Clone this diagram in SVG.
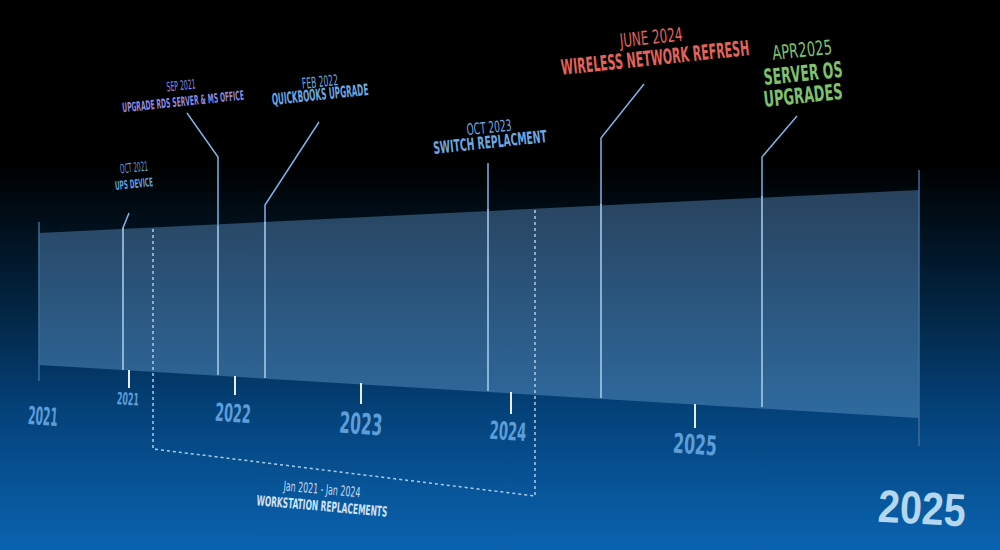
<svg xmlns="http://www.w3.org/2000/svg" width="1000" height="550" viewBox="0 0 1000 550">
<defs>
<linearGradient id="bg" x1="0" y1="0" x2="0" y2="550" gradientUnits="userSpaceOnUse">
<stop offset="0" stop-color="#000000"/>
<stop offset="0.3" stop-color="#000000"/>
<stop offset="0.55" stop-color="#02233f"/>
<stop offset="0.75" stop-color="#04427a"/>
<stop offset="1" stop-color="#0a63b0"/>
</linearGradient>
<linearGradient id="band" x1="0" y1="190" x2="0" y2="418" gradientUnits="userSpaceOnUse">
<stop offset="0" stop-color="#28425d"/>
<stop offset="1" stop-color="#2e6ba0"/>
</linearGradient>
<style>
.t{font-family:"Liberation Sans Narrow","DejaVu Sans Condensed","Liberation Sans",sans-serif;text-anchor:middle}
.b{font-weight:bold}
.yr{fill:#5d9dd8;font-weight:bold}
.lead{fill:none;stroke:#7fb3e3;stroke-width:1.5}
.vl{stroke:#a9d0f0;stroke-width:1.5}
.tick{stroke:#e4edf6;stroke-width:2}
.dash{fill:none;stroke:#a9cde9;stroke-width:1.5;stroke-dasharray:3 3}
.edge{stroke:#3a6c98;stroke-width:1.5}
</style>
</defs>
<rect width="1000" height="550" fill="url(#bg)"/>
<g id="band-shape">
<polygon points="39,233 919,190 919,418 39,365" fill="url(#band)"/>
<line class="edge" x1="39" y1="222" x2="39" y2="381"/>
<line class="edge" x1="919" y1="170" x2="919" y2="446"/>
</g>
<g id="connectors">
<polyline class="lead" points="129,213 123,228 123,229"/>
<line class="vl" x1="123" y1="228" x2="123" y2="370"/>
<polyline class="lead" points="187,113 218,157 218,226"/>
<line class="vl" x1="218" y1="226" x2="218" y2="375"/>
<polyline class="lead" points="319,122 265,205 265,223"/>
<line class="vl" x1="265" y1="222" x2="265" y2="378"/>
<line class="lead" x1="488" y1="163" x2="488" y2="210"/>
<line class="vl" x1="488" y1="209" x2="488" y2="391"/>
<polyline class="lead" points="644,84 601,138 601,205"/>
<line class="vl" x1="601" y1="204" x2="601" y2="398"/>
<polyline class="lead" points="797,116 762,157 762,197"/>
<line class="vl" x1="762" y1="196" x2="762" y2="407"/>
<line class="tick" x1="129" y1="370" x2="129" y2="388"/>
<line class="tick" x1="235" y1="376" x2="235" y2="395"/>
<line class="tick" x1="361" y1="383" x2="361" y2="404"/>
<line class="tick" x1="511" y1="392" x2="511" y2="414"/>
<line class="tick" x1="695" y1="404" x2="695" y2="428"/>
<polyline class="dash" points="153,229 153,449 535,496 535,208"/>
</g>
<g id="ev-ups">
<text class="t" x="134" y="172" font-size="13" fill="#5f9fdc" textLength="28" lengthAdjust="spacingAndGlyphs" transform="rotate(-6 134 168)">OCT 2021</text>
<text class="t b" x="134" y="188" font-size="12" fill="#5f9fdc" textLength="38" lengthAdjust="spacingAndGlyphs" transform="rotate(-6 134 184)">UPS DEVICE</text>
</g>
<g id="ev-rds">
<text class="t" x="181" y="90" font-size="13" fill="#8d8be0" textLength="29" lengthAdjust="spacingAndGlyphs" transform="rotate(-6 181 85)">SEP 2021</text>
<text class="t b" x="183" y="106" font-size="13" fill="#8d8be0" textLength="122" lengthAdjust="spacingAndGlyphs" transform="rotate(-6 183 101)">UPGRADE RDS SERVER &amp; MS OFFICE</text>
</g>
<g id="ev-qb">
<text class="t" x="320" y="87" font-size="15" fill="#6ca8e2" textLength="36" lengthAdjust="spacingAndGlyphs" transform="rotate(-6 320 82)">FEB 2022</text>
<text class="t b" x="320" y="100" font-size="16" fill="#6ca8e2" textLength="97" lengthAdjust="spacingAndGlyphs" transform="rotate(-6 320 94)">QUICKBOOKS UPGRADE</text>
</g>
<g id="ev-switch">
<text class="t" x="489" y="133" font-size="16" fill="#6ca8e2" textLength="45" lengthAdjust="spacingAndGlyphs" transform="rotate(-6 489 127)">OCT 2023</text>
<text class="t b" x="490" y="148" font-size="17" fill="#6ca8e2" textLength="114" lengthAdjust="spacingAndGlyphs" transform="rotate(-6 490 142)">SWITCH REPLACMENT</text>
</g>
<g id="ev-wireless">
<text class="t" x="651" y="44" font-size="19" fill="#e0645a" textLength="63" lengthAdjust="spacingAndGlyphs" transform="rotate(-6 651 37)">JUNE 2024</text>
<text class="t b" x="655" y="65" font-size="21" fill="#e0645a" textLength="189" lengthAdjust="spacingAndGlyphs" transform="rotate(-6 655 57)">WIRELESS NETWORK REFRESH</text>
</g>
<g id="ev-serveros">
<text class="t" x="802" y="57" font-size="20" fill="#7fc06c" textLength="60" lengthAdjust="spacingAndGlyphs" transform="rotate(-6 802 50)">APR2025</text>
<text class="t b" x="803" y="81" font-size="22" fill="#7fc06c" textLength="79" lengthAdjust="spacingAndGlyphs" transform="rotate(-6 803 73)">SERVER OS</text>
<text class="t b" x="803" y="103" font-size="22" fill="#7fc06c" textLength="79" lengthAdjust="spacingAndGlyphs" transform="rotate(-6 803 95)">UPGRADES</text>
</g>
<g id="years">
<text class="t yr" x="43" y="425" font-size="25" textLength="30" lengthAdjust="spacingAndGlyphs" transform="rotate(4 43 416)">2021</text>
<text class="t yr" x="128" y="405" font-size="17" textLength="22" lengthAdjust="spacingAndGlyphs" transform="rotate(4 128 399)">2021</text>
<text class="t yr" x="233" y="422" font-size="25" textLength="36" lengthAdjust="spacingAndGlyphs" transform="rotate(4 233 413)">2022</text>
<text class="t yr" x="361" y="434" font-size="29" textLength="43" lengthAdjust="spacingAndGlyphs" transform="rotate(4 361 424)">2023</text>
<text class="t yr" x="508" y="440" font-size="25" textLength="37" lengthAdjust="spacingAndGlyphs" transform="rotate(4 508 431)">2024</text>
<text class="t yr" x="695" y="454" font-size="27" textLength="44" lengthAdjust="spacingAndGlyphs" transform="rotate(4 695 445)">2025</text>
</g>
<g id="ev-workstation">
<text class="t" x="322" y="494" font-size="14" fill="#c6dbee" textLength="77" lengthAdjust="spacingAndGlyphs" transform="rotate(5 322 489)">Jan 2021 - Jan 2024</text>
<text class="t b" x="322" y="511" font-size="14" fill="#d2e3f3" textLength="131" lengthAdjust="spacingAndGlyphs" transform="rotate(5 322 506)">WORKSTATION REPLACEMENTS</text>
</g>
<g id="title-year">
<text x="922" y="524" font-family="'Liberation Sans',Arial,sans-serif" font-weight="bold" font-size="46" fill="#b5d6ef" text-anchor="middle" textLength="88" lengthAdjust="spacingAndGlyphs" transform="rotate(3 922 507)">2025</text>
</g>
</svg>
